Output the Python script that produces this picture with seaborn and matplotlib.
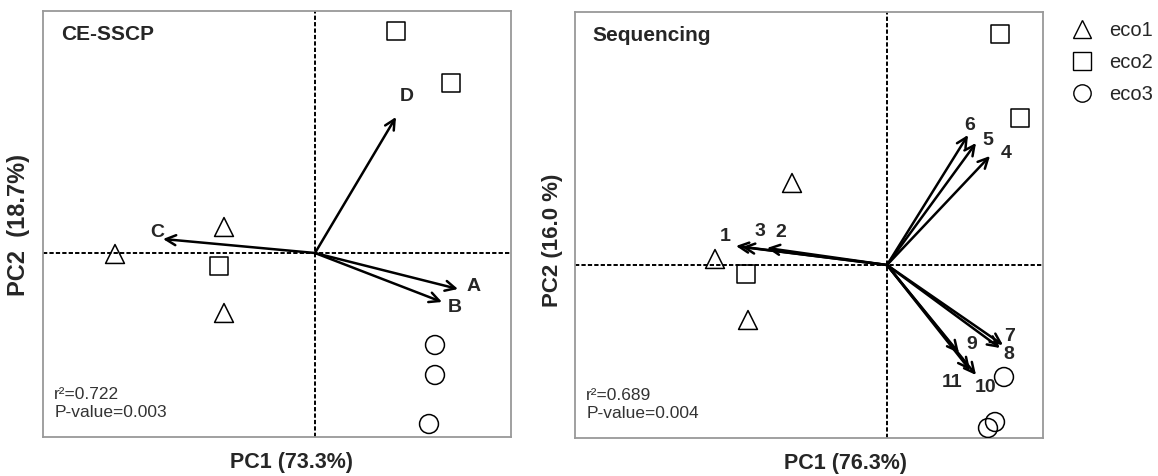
import numpy as np
import pandas as pd
import seaborn as sns
import matplotlib.pyplot as plt
from matplotlib.lines import Line2D

# ---- CE-SSCP panel ----
sscp_group = ["eco1", "eco1", "eco1", "eco2", "eco2", "eco2", "eco3", "eco3", "eco3"]
sscp_pc1 = [-2.00, -0.91, -0.91, 0.81, 1.36, -0.96, 1.20, 1.20, 1.14]
sscp_pc2 = [-0.01, 0.26, -0.60, 2.22, 1.70, -0.13, -0.92, -1.22, -1.71]
sscp_vars = ["A", "B", "C", "D"]
sscp_load1 = [1.43, 1.27, -1.52, 0.81]
sscp_load2 = [-0.36, -0.49, 0.14, 1.36]

# ---- Sequencing panel ----
seq_group = ["eco1", "eco1", "eco1", "eco2", "eco2", "eco2", "eco3", "eco3", "eco3"]
seq_pc1 = [-0.95, -1.72, -1.39, 1.13, 1.33, -1.41, 1.17, 1.01, 1.08]
seq_pc2 = [0.82, 0.06, -0.55, 2.31, 1.47, -0.09, -1.12, -1.63, -1.57]
seq_vars = ["1", "2", "3", "4", "5", "6", "7", "8", "9", "10", "11"]
seq_load1 = [-1.51, -1.20, -1.45, 1.03, 0.89, 0.81, 1.16, 1.13, 0.72, 0.89, 0.83]
seq_load2 = [0.19, 0.17, 0.18, 1.09, 1.22, 1.30, -0.80, -0.83, -0.88, -1.10, -1.05]

# label offsets from arrow tips (points)
sscp_offsets = {"A": (11, 1.5), "B": (9.5, -4), "C": (-4, 5), "D": (8, 15)}
seq_offsets = {"1": (-8, 6.5), "2": (10, 11), "3": (13, 11), "4": (11.5, 2), "5": (8.5, 1.5),
               "6": (1, 7), "7": (5, 6), "8": (6, -5), "9": (9.5, 6), "10": (7, -9),
               "11": (-13, -9)}

sns.set_theme(style="white")
plt.rcParams["font.family"] = ["Liberation Sans", "DejaVu Sans"]

markers = {"eco1": "^", "eco2": "s", "eco3": "o"}
W, H = 1158, 476
fig = plt.figure(figsize=(W / 100, H / 100), dpi=100)
ax1 = fig.add_axes([43 / W, (H - 437) / H, 468 / W, 426 / H])
ax2 = fig.add_axes([575 / W, (H - 438) / H, 468 / W, 426 / H])


def panel(ax, group, pc1, pc2, names, l1, l2, offsets, title, stats, xlab, ylab,
          xlim, ylim, xlab_pos, ylab_pos, ylab_size):
    df = pd.DataFrame({"pc1": pc1, "pc2": pc2, "eco": group})
    ax.axhline(0, color="black", ls=(0, (2.2, 1.1)), lw=1.4, zorder=1)
    ax.axvline(0, color="black", ls=(0, (2.2, 1.1)), lw=1.4, zorder=1)
    sns.scatterplot(data=df, x="pc1", y="pc2", style="eco", markers=markers, s=185,
                    facecolor="none", edgecolor="black", linewidth=1.1, legend=False,
                    ax=ax, zorder=3)
    for n, a, b in zip(names, l1, l2):
        ax.annotate("", xy=(a, b), xytext=(0, 0),
                    arrowprops=dict(arrowstyle="->", lw=1.8, color="black",
                                    mutation_scale=18, shrinkA=0, shrinkB=0))
        ax.annotate(n, xy=(a, b), xytext=offsets[n], textcoords="offset points",
                    ha="center", va="center", fontsize=14, fontweight="bold")
    ax.text(0.038, 0.944, title, transform=ax.transAxes, fontsize=15,
            fontweight="bold", va="center", ha="left")
    ax.text(0.024, 0.079, stats, transform=ax.transAxes, fontsize=12.5,
            color="#333333", va="center", ha="left", linespacing=1.2)
    ax.set_xlim(xlim)
    ax.set_ylim(ylim)
    ax.set_xticks([])
    ax.set_yticks([])
    ax.set_xlabel(xlab, fontsize=15.5, fontweight="bold", va="center")
    ax.set_ylabel(ylab, fontsize=ylab_size, fontweight="bold", va="center")
    ax.xaxis.set_label_coords(*xlab_pos)
    ax.yaxis.set_label_coords(*ylab_pos)
    for s in ax.spines.values():
        s.set_color("#999999")
        s.set_linewidth(1.3)


panel(ax1, sscp_group, sscp_pc1, sscp_pc2, sscp_vars, sscp_load1, sscp_load2,
      sscp_offsets, "CE-SSCP", "r\u00b2=0.722\nP-value=0.003",
      "PC1 (73.3%)", "PC2  (18.7%)", (-2.72, 1.96), (-1.84, 2.42),
      (0.53, -0.059), (-0.053, 0.498), 17)
panel(ax2, seq_group, seq_pc1, seq_pc2, seq_vars, seq_load1, seq_load2,
      seq_offsets, "Sequencing", "r\u00b2=0.689\nP-value=0.004",
      "PC1 (76.3%)", "PC2 (16.0 %)", (-3.12, 1.56), (-1.73, 2.53),
      (0.577, -0.059), (-0.049, 0.465), 16)

handles = [Line2D([], [], ls="", marker=markers[k], markersize=12.5, markerfacecolor="none",
                  markeredgecolor="black", markeredgewidth=1.0) for k in markers]
fig.legend(handles, list(markers), loc="upper left", bbox_to_anchor=(1064 / W, 1 - 13 / H),
           frameon=False, fontsize=14.5, handlelength=1.0, handletextpad=0.85,
           labelspacing=0.65, borderaxespad=0)

fig.savefig("out.png", dpi=100)
